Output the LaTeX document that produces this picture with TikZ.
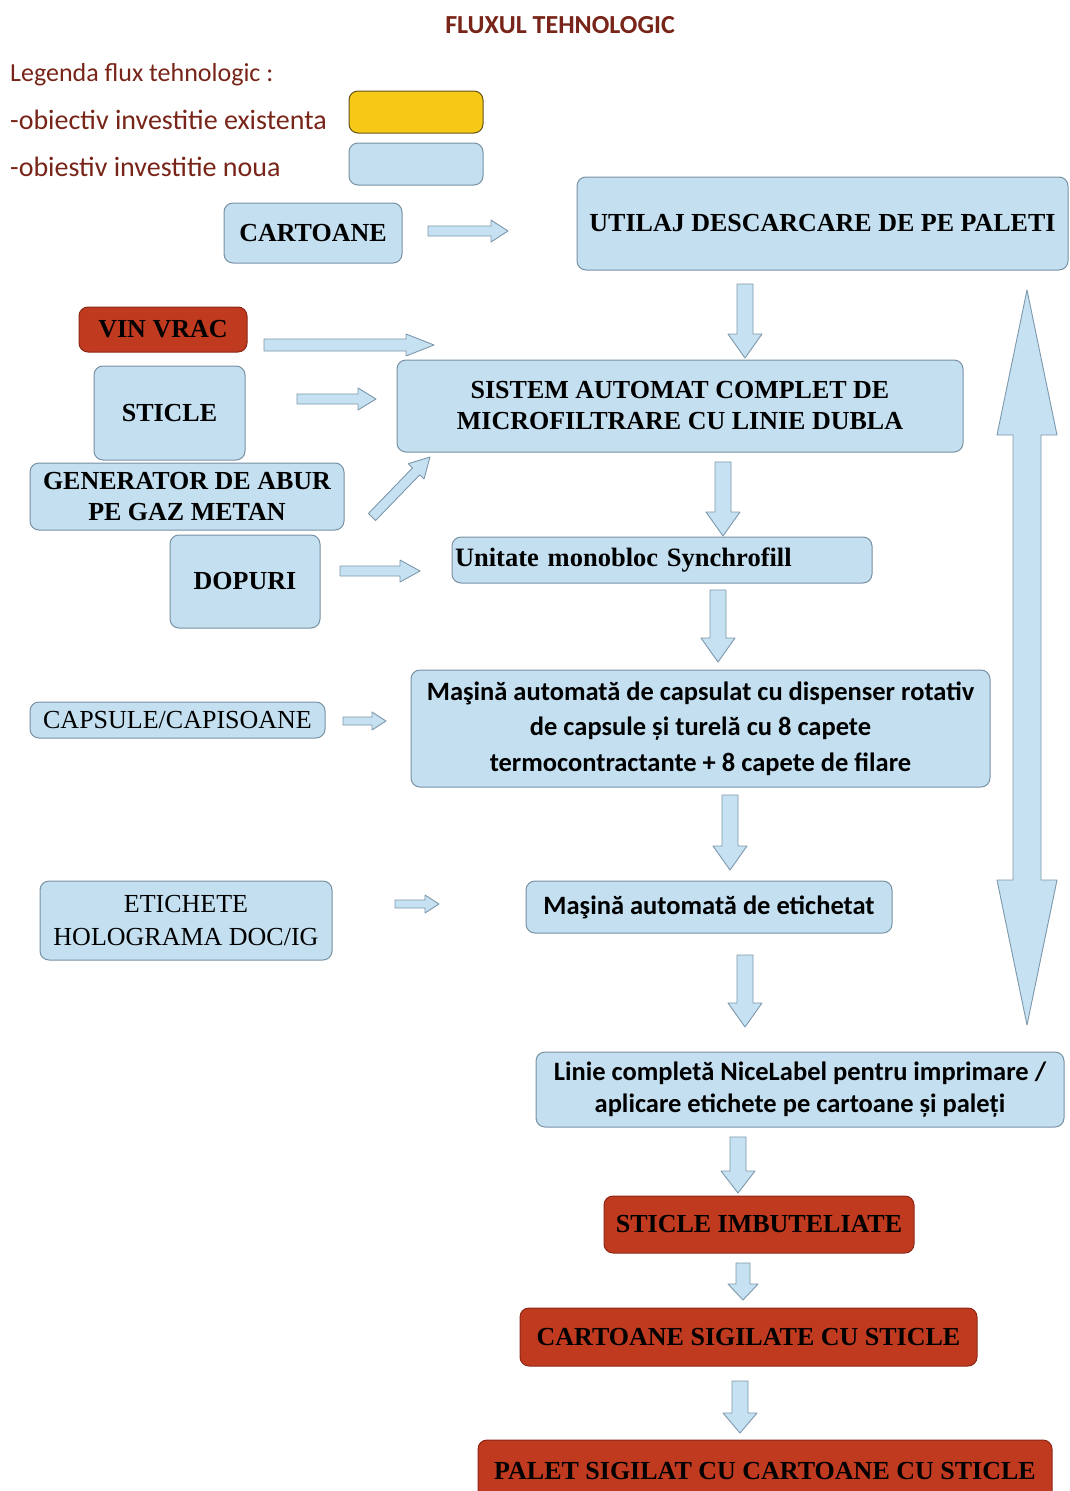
\documentclass[tikz,border=0pt]{standalone}
\usepackage{fontspec}
\setmainfont{Liberation Serif}
\newfontfamily\calib{Carlito}
\usetikzlibrary{calc}
\definecolor{boxblue}{RGB}{195,223,240}
\definecolor{boxborder}{RGB}{120,146,164}
\definecolor{boxred}{RGB}{192,58,32}
\definecolor{redborder}{RGB}{140,40,22}
\definecolor{legyellow}{RGB}{246,201,22}
\definecolor{yelborder}{RGB}{100,84,26}
\definecolor{arrowfill}{RGB}{198,225,241}
\definecolor{arrowborder}{RGB}{125,152,172}
\definecolor{titlered}{RGB}{120,36,24}
\begin{document}
\begin{tikzpicture}[x=1pt,y=-1pt,
  box/.style={draw=boxborder, fill=boxblue, rounded corners=9pt, line width=1pt, inner sep=0pt, align=center, text=black},
  redbox/.style={box, draw=redborder, fill=boxred},
  serifb/.style={font=\fontsize{26}{31}\selectfont\bfseries},
  serifr/.style={font=\fontsize{26}{33}\selectfont},
  sansb/.style={font=\calib\fontsize{26.5}{35.5}\selectfont\bfseries},
  legtext/.style={anchor=west, inner sep=0pt, text=titlered},
  barrow/.style n args={3}{draw=arrowborder, fill=arrowfill, line width=0.9pt, line join=round,
    to path={
      ($(\tikztostart)!#1!90:(\tikztotarget)$)
      -- ($($(\tikztotarget)!#3!(\tikztostart)$)!#1!90:(\tikztotarget)$)
      -- ($($(\tikztotarget)!#3!(\tikztostart)$)!#2!90:(\tikztotarget)$)
      -- (\tikztotarget)
      -- ($($(\tikztotarget)!#3!(\tikztostart)$)!#2!-90:(\tikztotarget)$)
      -- ($($(\tikztotarget)!#3!(\tikztostart)$)!#1!-90:(\tikztotarget)$)
      -- ($(\tikztostart)!#1!-90:(\tikztotarget)$)
      -- cycle}},
  dbarrow/.style n args={3}{draw=arrowborder, fill=arrowfill, line width=0.9pt, line join=round,
    to path={
      (\tikztostart)
      -- ($($(\tikztostart)!#3!(\tikztotarget)$)!#2!90:(\tikztotarget)$)
      -- ($($(\tikztostart)!#3!(\tikztotarget)$)!#1!90:(\tikztotarget)$)
      -- ($($(\tikztotarget)!#3!(\tikztostart)$)!#1!90:(\tikztotarget)$)
      -- ($($(\tikztotarget)!#3!(\tikztostart)$)!#2!90:(\tikztotarget)$)
      -- (\tikztotarget)
      -- ($($(\tikztotarget)!#3!(\tikztostart)$)!#2!-90:(\tikztotarget)$)
      -- ($($(\tikztotarget)!#3!(\tikztostart)$)!#1!-90:(\tikztotarget)$)
      -- ($($(\tikztostart)!#3!(\tikztotarget)$)!#1!-90:(\tikztotarget)$)
      -- ($($(\tikztostart)!#3!(\tikztotarget)$)!#2!-90:(\tikztotarget)$)
      -- cycle}}
]
\useasboundingbox (0,0) rectangle (1070,1491);
\fill[white] (0,0) rectangle (1070,1491);

% title and legend
\node[text=titlered, font=\calib\fontsize{26}{30}\selectfont\bfseries, inner sep=0pt] (title) at (560,25) {FLUXUL TEHNOLOGIC};
\node[legtext, font=\calib\fontsize{26}{30}\selectfont] (leg0) at (10,75) {Legenda flux tehnologic :};
\node[legtext, font=\calib\fontsize{28}{30}\selectfont] (leg1) at (10,120) {-obiectiv investitie existenta};
\node[legtext, font=\calib\fontsize{28}{30}\selectfont] (leg2) at (10,167) {-obiestiv investitie noua};
\node[box, draw=yelborder, fill=legyellow, minimum width=134pt, minimum height=42pt] (legy) at (416,112) {};
\node[box, minimum width=134pt, minimum height=42pt] (legb) at (416,164) {};

% process boxes
\node[box, serifb, minimum width=178pt, minimum height=60pt] (cart) at (313,233) {CARTOANE};
\node[box, serifb, minimum width=491pt, minimum height=93pt] (utilaj) at (822.5,223.5) {UTILAJ DESCARCARE DE PE PALETI};
\node[redbox, serifb, minimum width=168pt, minimum height=45pt] (vin) at (163,329.5) {VIN VRAC};
\node[box, serifb, minimum width=151pt, minimum height=94pt] (sticle) at (169.5,413) {STICLE};
\node[box, serifb, minimum width=566pt, minimum height=92pt] (sistem) at (680,406) {SISTEM AUTOMAT COMPLET DE\\MICROFILTRARE CU LINIE DUBLA};
\node[box, serifb, minimum width=314pt, minimum height=67pt] (gen) at (187,496.5) {GENERATOR DE ABUR\\PE GAZ METAN};
\node[box, serifb, minimum width=150pt, minimum height=93pt] (dop) at (245,581.5) {DOPURI};
\node[box, font=\fontsize{26.5}{30}\selectfont\bfseries, minimum width=420pt, minimum height=46pt, text width=414pt, inner xsep=3pt, align=left] (unit) at (662,560) {Unitate monobloc Synchrofill};
\node[box, serifr, minimum width=295pt, minimum height=36pt] (caps) at (177.5,720) {CAPSULE/CAPISOANE};
\node[box, sansb, minimum width=579pt, minimum height=117pt] (masina) at (700.5,728.5) {Maşină automată de capsulat cu dispenser rotativ\\de capsule și turelă cu 8 capete\\termocontractante + 8 capete de filare};
\node[box, serifr, minimum width=292pt, minimum height=79pt] (etic) at (186,920.5) {ETICHETE\\HOLOGRAMA DOC/IG};
\node[box, sansb, minimum width=366pt, minimum height=52pt] (metic) at (709,907) {Maşină automată de etichetat};
\node[box, font=\calib\fontsize{26.5}{32}\selectfont\bfseries, minimum width=528pt, minimum height=75pt] (linie) at (800,1089.5) {Linie completă NiceLabel pentru imprimare /\\aplicare etichete pe cartoane și paleți};
\node[redbox, serifb, minimum width=310pt, minimum height=57pt] (imb) at (759,1224.5) {STICLE IMBUTELIATE};
\node[redbox, serifb, minimum width=457pt, minimum height=58pt] (csig) at (748.5,1337) {CARTOANE SIGILATE CU STICLE};
\node[redbox, serifb, minimum width=574pt, minimum height=62pt] (palet) at (765,1471) {PALET SIGILAT CU CARTOANE CU STICLE};

% connector end points (arrows leave gaps to the boxes)
\coordinate (a1s) at (428,231);  \coordinate (a1e) at (508,231);
\coordinate (a2s) at (745,284);  \coordinate (a2e) at (745,358);
\coordinate (a3s) at (264,345);  \coordinate (a3e) at (434,345);
\coordinate (a4s) at (297,399);  \coordinate (a4e) at (376,399);
\coordinate (a5s) at (372,517);  \coordinate (a5e) at (430,457);
\coordinate (a6s) at (723,462);  \coordinate (a6e) at (723,536);
\coordinate (a7s) at (340,571);  \coordinate (a7e) at (420,571);
\coordinate (a8s) at (718,590);  \coordinate (a8e) at (718,662);
\coordinate (a9s) at (343,721);  \coordinate (a9e) at (386,721);
\coordinate (a10s) at (730,795); \coordinate (a10e) at (730,870);
\coordinate (a11s) at (395,904); \coordinate (a11e) at (439,904);
\coordinate (a12s) at (745,955); \coordinate (a12e) at (745,1027);
\coordinate (a13s) at (1027,290); \coordinate (a13e) at (1027,1025);
\coordinate (a14s) at (738,1137); \coordinate (a14e) at (738,1193);
\coordinate (a15s) at (743,1263); \coordinate (a15e) at (743,1300);
\coordinate (a16s) at (740,1381); \coordinate (a16e) at (740,1433);

\draw[barrow={5pt}{11pt}{17pt}] (a1s) to (a1e);   % cart -> utilaj
\draw[barrow={8pt}{17pt}{24pt}] (a2s) to (a2e);   % utilaj -> sistem
\draw[barrow={6pt}{11pt}{28pt}] (a3s) to (a3e);   % vin -> sistem
\draw[barrow={5pt}{11pt}{18pt}] (a4s) to (a4e);   % sticle -> sistem
\draw[barrow={5pt}{11pt}{20pt}] (a5s) to (a5e);   % gen -> sistem
\draw[barrow={8pt}{17pt}{24pt}] (a6s) to (a6e);   % sistem -> unit
\draw[barrow={5pt}{11pt}{20pt}] (a7s) to (a7e);   % dop -> unit
\draw[barrow={8pt}{17pt}{24pt}] (a8s) to (a8e);   % unit -> masina
\draw[barrow={4pt}{9pt}{14pt}] (a9s) to (a9e);    % caps -> masina
\draw[barrow={8pt}{17pt}{24pt}] (a10s) to (a10e); % masina -> metic
\draw[barrow={4pt}{9pt}{14pt}] (a11s) to (a11e);  % etic -> metic
\draw[barrow={8pt}{17pt}{24pt}] (a12s) to (a12e); % metic -> linie
\draw[dbarrow={14pt}{30pt}{145pt}] (a13s) to (a13e); % utilaj <-> linie
\draw[barrow={8pt}{17pt}{22pt}] (a14s) to (a14e); % linie -> imb
\draw[barrow={7pt}{15pt}{16pt}] (a15s) to (a15e); % imb -> csig
\draw[barrow={8pt}{17pt}{20pt}] (a16s) to (a16e); % csig -> palet
\end{tikzpicture}
\end{document}
